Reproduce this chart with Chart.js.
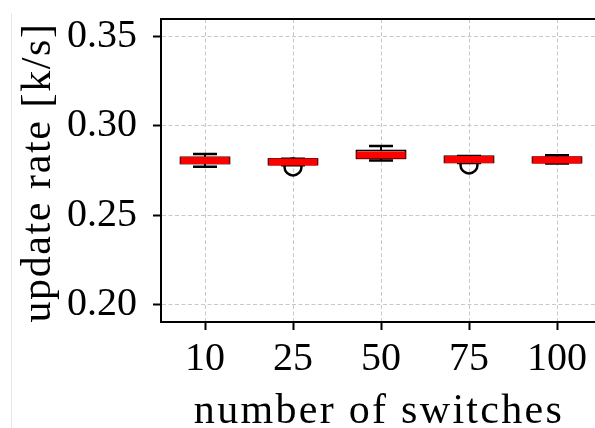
<!DOCTYPE html>
<html>
<head>
<meta charset="utf-8">
<title>update rate vs number of switches</title>
<style>
  html, body { margin: 0; padding: 0; background: #fff; width: 595px; height: 428px; overflow: hidden; }
  #wrap { position: relative; width: 612px; height: 428px; }
  #c { display: block; }
  #edge { position: absolute; left: 11px; top: 13px; width: 1px; height: 415px; background: #e6e6e6; }
</style>
<script src="https://cdn.jsdelivr.net/npm/chart.js@4/dist/chart.umd.min.js"></script>
</head>
<body>
<div id="wrap">
  <canvas id="c" width="612" height="428"></canvas>
  <div id="edge"></div>
</div>
<script>
// Box-plot summary of the update rate (k/s) per topology size
const switchCounts = ['10', '25', '50', '75', '100'];
const whiskerLow  = [0.2771, 0.2780, 0.2806, 0.2792, 0.2789];
const q1          = [0.2789, 0.2783, 0.2818, 0.2795, 0.2794];
const median      = [0.2806, 0.2797, 0.2837, 0.2812, 0.2809];
const q3          = [0.2824, 0.2815, 0.2862, 0.2830, 0.2825];
const whiskerHigh = [0.2843, 0.2816, 0.2888, 0.2831, 0.2836];
const outliers    = [[], [0.2770], [], [0.2781], []];
const yTicks      = [0.20, 0.25, 0.30, 0.35];
const xTitle = 'number of switches';
const yTitle = 'update rate [k/s]';

const SERIF = '"Liberation Serif", "Times New Roman", "DejaVu Serif", serif';

// flier points as a plain dataset
const flierPoints = [];
outliers.forEach((vals, i) => vals.forEach(v => flierPoints.push({ x: switchCounts[i], y: v })));

// draws whiskers, caps, boxes and medians through the chart scales
const boxPlot = {
  id: 'boxPlot',
  afterDatasetsDraw(chart) {
    const { ctx, scales: { x, y } } = chart;
    const boxHalf = 24.5, capHalf = 12;
    ctx.save();
    ctx.lineCap = 'butt';
    switchCounts.forEach((_, i) => {
      const cx = x.getPixelForValue(i);
      const yLo = y.getPixelForValue(whiskerLow[i]);
      const yQ1 = y.getPixelForValue(q1[i]);
      const yMed = y.getPixelForValue(median[i]);
      const yQ3 = y.getPixelForValue(q3[i]);
      const yHi = y.getPixelForValue(whiskerHigh[i]);

      ctx.strokeStyle = '#000';
      // whiskers
      ctx.lineWidth = 2;
      ctx.beginPath();
      ctx.moveTo(cx, yQ3); ctx.lineTo(cx, yHi);
      ctx.moveTo(cx, yQ1); ctx.lineTo(cx, yLo);
      ctx.stroke();
      // caps
      ctx.lineWidth = 2.5;
      ctx.beginPath();
      ctx.moveTo(cx - capHalf, yHi); ctx.lineTo(cx + capHalf, yHi);
      ctx.moveTo(cx - capHalf, yLo); ctx.lineTo(cx + capHalf, yLo);
      ctx.stroke();
      // box
      ctx.lineWidth = 1.6;
      ctx.strokeRect(cx - boxHalf, yQ3, boxHalf * 2, yQ1 - yQ3);
      // median
      ctx.strokeStyle = '#ff0000';
      ctx.lineWidth = 7;
      ctx.beginPath();
      ctx.moveTo(cx - boxHalf, yMed); ctx.lineTo(cx + boxHalf, yMed);
      ctx.stroke();
    });
    ctx.restore();
  },
  afterDraw(chart) {
    const { ctx, chartArea: a } = chart;
    ctx.save();
    // top and right frame lines
    ctx.strokeStyle = '#000';
    ctx.lineWidth = 2;
    ctx.beginPath();
    ctx.moveTo(a.left - 1, a.top); ctx.lineTo(a.right, a.top); ctx.lineTo(a.right, a.bottom);
    ctx.stroke();

    // axis titles
    ctx.fillStyle = '#000';
    ctx.font = '42px ' + SERIF;
    ctx.textAlign = 'center';
    ctx.textBaseline = 'alphabetic';
    ctx.letterSpacing = '2.3px';
    ctx.fillText(xTitle, (a.left + a.right) / 2 - 2, a.bottom + 101);

    ctx.letterSpacing = '1.6px';
    ctx.translate(a.left - 111, (a.top + a.bottom) / 2 + 2);
    ctx.rotate(-Math.PI / 2);
    ctx.fillText(yTitle, 0, 0);
    ctx.restore();
  }
};

const gridCommon = {
  color: '#c9c9c9',
  lineWidth: 1,
  drawTicks: true,
  tickLength: 8,
  tickColor: '#000',
  tickWidth: 2,
  offset: false
};
const borderCommon = { display: true, color: '#000', width: 2, dash: [4, 2.5] };

new Chart(document.getElementById('c'), {
  type: 'line',
  data: {
    labels: switchCounts,
    datasets: [{
      label: 'outliers',
      data: flierPoints,
      showLine: false,
      pointStyle: 'circle',
      pointRadius: 8.5,
      pointHoverRadius: 8.5,
      pointBorderWidth: 2.5,
      pointBorderColor: '#000',
      pointBackgroundColor: 'rgba(0,0,0,0)'
    }]
  },
  options: {
    responsive: false,
    animation: false,
    events: [],
    layout: { padding: { left: 51, top: 19, right: 11, bottom: 39 } },
    plugins: { legend: { display: false }, tooltip: { enabled: false } },
    scales: {
      x: {
        type: 'category',
        labels: switchCounts,
        offset: true,
        grid: gridCommon,
        border: borderCommon,
        ticks: { color: '#000', padding: 5.5, font: { family: SERIF, size: 40, lineHeight: 1.2 } }
      },
      y: {
        min: 0.19,
        max: 0.36,
        afterBuildTicks: scale => { scale.ticks = yTicks.map(v => ({ value: v })); },
        grid: gridCommon,
        border: borderCommon,
        ticks: {
          color: '#000',
          padding: 16,
          font: { family: SERIF, size: 40, lineHeight: 0.1 },
          callback: v => Number(v).toFixed(2)
        }
      }
    }
  },
  plugins: [boxPlot]
});
</script>
</body>
</html>
